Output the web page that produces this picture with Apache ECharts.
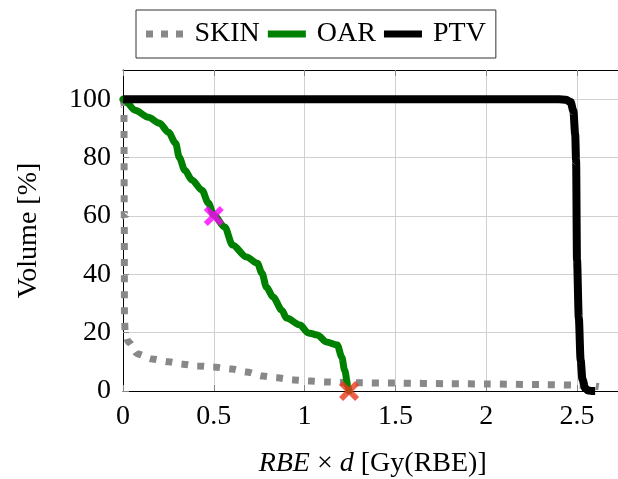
<!DOCTYPE html>
<html>
<head>
<meta charset="utf-8">
<script src="https://cdn.jsdelivr.net/npm/echarts@6/dist/echarts.min.js"></script>
<style>
html,body{margin:0;padding:0;background:#fff;}
#chart{width:618px;height:479px;}
</style>
</head>
<body>
<div id="chart"></div>
<script>
const xTicks = [0, 0.5, 1, 1.5, 2, 2.5];
const yTicks = [0, 20, 40, 60, 80, 100];

const skinX = [0, 0.005, 0.007, 0.008, 0.012, 0.03, 0.08, 0.16, 0.25, 0.33, 0.41, 0.5, 0.6, 0.68, 0.77, 0.85, 0.94, 1.03, 1.12, 1.3, 1.5, 1.8, 2.0, 2.3, 2.5, 2.58, 2.62];
const skinY = [100, 98, 60, 25, 20, 16.8, 12.7, 11, 10, 9.2, 8.6, 8.2, 7.5, 6.5, 5.1, 4.5, 3.8, 3.4, 3.1, 2.8, 2.7, 2.5, 2.4, 2.2, 2.0, 1.8, 1.5];

const oarX = [0, 0.01, 0.066, 0.14, 0.2, 0.25, 0.29, 0.31, 0.34, 0.38, 0.435, 0.47, 0.5, 0.56, 0.603, 0.68, 0.74, 0.765, 0.79, 0.826, 0.875, 0.9, 0.975, 1.02, 1.07, 1.12, 1.18, 1.205, 1.22, 1.24, 1.245];
const oarY = [100, 99.6, 96.2, 93.8, 91.8, 88.7, 84.9, 80, 75.7, 72.3, 68.8, 64.4, 60.3, 56.2, 50, 45.9, 43.8, 40.4, 35.6, 32.2, 27.7, 25, 22.6, 19.9, 19.2, 16.8, 15.8, 11.6, 7.2, 1.4, 0];

const ptvX = [0, 0.5, 1, 1.5, 2, 2.4, 2.44, 2.465, 2.48, 2.49, 2.495, 2.5, 2.51, 2.52, 2.53, 2.545, 2.56, 2.58, 2.6];
const ptvY = [100, 100, 100, 100, 100, 100, 99.8, 99, 96, 88, 79, 45, 25, 10.6, 4, 1, 0.2, 0, 0];

const markerMagenta = [[0.5, 60]];
const markerRed = [[1.245, 0]];

const seriesNames = ['SKIN', 'OAR', 'PTV'];

function zip(xs, ys) { return xs.map((x, i) => [x, ys[i]]); }

const FONT = 'Liberation Serif';
const crossPath = 'path://M0,4 L4,0 L10,6 L16,0 L20,4 L14,10 L20,16 L16,20 L10,14 L4,20 L0,16 L6,10 Z';
const X_MAX = 2.75;

const chart = echarts.init(document.getElementById('chart'), null, {renderer: 'canvas'});
chart.setOption({
  animation: false,
  backgroundColor: '#fff',
  textStyle: {fontFamily: FONT},
  legend: {
    left: 136, top: 10,
    padding: [9, 10],
    itemGap: 8,
    itemWidth: 38, itemHeight: 7,
    borderColor: '#333', borderWidth: 1,
    textStyle: {fontFamily: FONT, fontSize: 28, color: '#000', lineHeight: 30, padding: [0, 0, 0, 6]},
    data: [
      {name: seriesNames[0], icon: 'path://M0,0h7v7h-7z M15,0h7v7h-7z M30,0h7v7h-7z', itemStyle: {color: '#888888'}},
      {name: seriesNames[1], icon: 'rect', itemStyle: {color: '#008000'}},
      {name: seriesNames[2], icon: 'rect', itemStyle: {color: '#000000'}}
    ]
  },
  grid: {left: 123, width: 499.4, top: 70, height: 321, outerBoundsMode: 'none', containLabel: false},
  xAxis: [{
    type: 'value', min: 0, max: X_MAX, interval: 0.5,
    axisLine: {show: true, lineStyle: {color: '#000', width: 1}},
    axisTick: {show: true, inside: true, length: 6, lineStyle: {color: '#888'}},
    axisLabel: {fontFamily: FONT, fontSize: 28, color: '#000', margin: 12, showMaxLabel: false,
      formatter: v => xTicks.includes(v) ? String(v) : ''},
    splitLine: {show: true, lineStyle: {color: '#d0d0d0', width: 1}},
    name: '{i|RBE} × {i|d} [Gy(RBE)]',
    nameLocation: 'middle', nameGap: 59,
    nameTextStyle: {fontFamily: FONT, fontSize: 28, color: '#000',
      rich: {i: {fontFamily: FONT, fontSize: 28, fontStyle: 'italic', color: '#000'}}}
  }, {
    type: 'value', min: 0, max: X_MAX, interval: 0.5, position: 'top',
    axisLine: {show: true, lineStyle: {color: '#000', width: 1}},
    axisTick: {show: true, inside: true, length: 6, lineStyle: {color: '#888'}},
    axisLabel: {show: false}, splitLine: {show: false}
  }],
  yAxis: {
    type: 'value', min: 0, max: 110, interval: 20,
    axisLine: {show: true, lineStyle: {color: '#000', width: 1}},
    axisTick: {show: true, inside: true, length: 6, lineStyle: {color: '#888'}},
    axisLabel: {fontFamily: FONT, fontSize: 28, color: '#000', margin: 12, showMaxLabel: false,
      formatter: v => yTicks.includes(v) ? String(v) : ''},
    splitLine: {show: true, lineStyle: {color: '#d0d0d0', width: 1}},
    name: 'Volume [%]', nameLocation: 'middle', nameGap: 80,
    nameTextStyle: {fontFamily: FONT, fontSize: 28, color: '#000'}
  },
  series: [
    {name: seriesNames[0], type: 'line', data: zip(skinX, skinY), symbol: 'none', z: 2,
      smooth: 0.3, smoothMonotone: 'x',
      itemStyle: {color: '#888888'},
      lineStyle: {color: '#888888', width: 7, type: [7, 9], cap: 'butt'}},
    {name: seriesNames[1], type: 'line', data: zip(oarX, oarY), symbol: 'none', z: 3,
      smooth: 0.3, smoothMonotone: 'x',
      itemStyle: {color: '#008000'},
      lineStyle: {color: '#008000', width: 7, join: 'round', cap: 'round'}},
    {name: seriesNames[2], type: 'line', data: zip(ptvX, ptvY), symbol: 'none', z: 4,
      smooth: 0.3, smoothMonotone: 'x',
      itemStyle: {color: '#000000'},
      lineStyle: {color: '#000000', width: 8, join: 'round', cap: 'butt'}},
    {type: 'scatter', data: markerMagenta, symbol: crossPath, symbolSize: 20, z: 5,
      itemStyle: {color: '#ff00ff'}},
    {type: 'scatter', data: markerRed, symbol: crossPath, symbolSize: 20, z: 5,
      itemStyle: {color: '#e8391d'}}
  ]
});
</script>
</body>
</html>
